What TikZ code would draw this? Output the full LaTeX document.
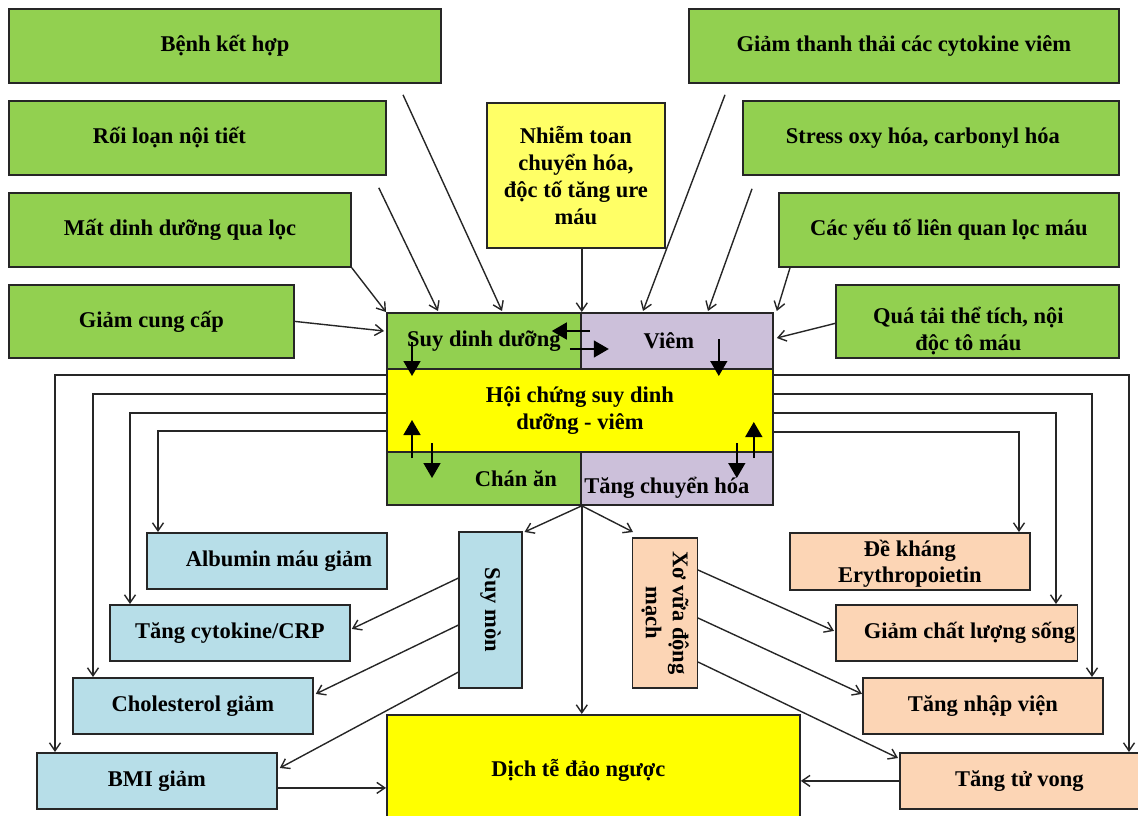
\documentclass[tikz,border=0pt]{standalone}
\usepackage{fontspec}
\setmainfont{Liberation Serif}
\usetikzlibrary{arrows.meta,calc}
\definecolor{cgreen}{HTML}{92D050}
\definecolor{cpurple}{HTML}{CCC0DA}
\definecolor{cyellow}{HTML}{FFFF00}
\definecolor{clyellow}{HTML}{FFFF66}
\definecolor{cblue}{HTML}{B7DEE8}
\definecolor{cpeach}{HTML}{FCD5B5}
\newcommand{\nudge}[1]{\hspace*{#1}}

\begin{document}
\begin{tikzpicture}[
      x=1pt, y=-1pt,
      nodes={
        font=\fontsize{22.5}{27}\selectfont\bfseries,
        align=center, inner sep=2pt
      },
      box/.style={draw=black!85, line width=1.8pt, anchor=north west},
      cause/.style={box, fill=cgreen},
      core/.style={box, fill=#1},
      effl/.style={box, fill=cblue, minimum width=240, minimum height=56},
      effr/.style={box, fill=cpeach, minimum width=240, minimum height=56},
      conn/.style={draw=black!85, line width=1.4pt, ->},
      bigarrow/.style={line width=1.6pt, -{Triangle[length=15pt,width=17pt]}},
      >={Straight Barb[length=8pt,width=11pt]}
      ]

  \useasboundingbox (0,0) rectangle (1138,816);

  % causes, left
  \node[cause, minimum width=432, minimum height=74] (benh) at (8,8) {Bệnh kết hợp};
  \node[cause, minimum width=377, minimum height=74] (roi) at (8,100) {\nudge{-56pt}Rối loạn nội tiết};
  \node[cause, minimum width=342, minimum height=74] (mat) at (8,192) {Mất dinh dưỡng qua lọc};
  \node[cause, minimum width=285, minimum height=73] (giam) at (8,284) {Giảm cung cấp};
  \node[box, fill=clyellow, minimum width=178, minimum height=145] (nhiem) at (486,102)
    {Nhiễm toan\\chuyển hóa,\\độc tố tăng ure\\máu};

  % causes, right
  \node[cause, minimum width=430, minimum height=74] (thanh) at (688,8) {Giảm thanh thải các cytokine viêm};
  \node[cause, minimum width=376, minimum height=74] (stress) at (742,100) {\nudge{-16pt}Stress oxy hóa, carbonyl hóa};
  \node[cause, minimum width=340, minimum height=74] (cac) at (778,192) {Các yếu tố liên quan lọc máu};
  \node[cause, minimum width=283, minimum height=73] (qua) at (835,284)
    {\rule{0pt}{36pt}\nudge{-18pt}Quá tải thể tích, nội\\\nudge{-18pt}độc tô máu};

  % core block
  \node[core=cgreen, minimum width=194, minimum height=56] (sdd) at (386,312) {Suy dinh dưỡng};
  \node[core=cpurple, minimum width=192, minimum height=56] (viem) at (580,312) {\nudge{-16pt}Viêm};
  \node[core=cyellow, minimum width=386, minimum height=83] (hoi) at (386,368) {Hội chứng suy dinh\\dưỡng - viêm};
  \node[core=cgreen, minimum width=194, minimum height=53] (chan) at (386,451) {\nudge{64pt}Chán ăn};
  \node[core=cpurple, minimum width=192, minimum height=53] (tang) at (580,451) {\rule{0pt}{36pt}\nudge{-20pt}Tăng chuyển hóa};

  % effects, left
  \node[effl] (alb) at (146,532) {\nudge{24pt}Albumin máu giảm};
  \node[effl] (cyto) at (109,604) {Tăng cytokine/CRP};
  \node[effl] (chol) at (72,677) {Cholesterol giảm};
  \node[effl] (bmi) at (36,752) {BMI giảm};
  \node[box, fill=cblue, anchor=center, rotate=-90, minimum width=156, minimum height=63] (suymon) at (490.5,610) {Suy mòn};

  % effects, right
  \node[box, fill=cpeach, anchor=center, rotate=-90, minimum width=150, minimum height=65] (xova) at (665,613) {Xơ vữa động\\mạch};
  \node[effr, font=\fontsize{22.5}{26}\selectfont\bfseries] (dek) at (789,532) {\rule{0pt}{22pt}Đề kháng\\Erythropoietin};
  \node[effr, minimum width=238] (gcl) at (835,604) {\nudge{26pt}Giảm chất lượng sống};
  \node[effr] (nhap) at (862,677) {Tăng nhập viện};
  \node[effr, minimum width=239] (tu) at (899,752) {Tăng tử vong};
  \node[core=cyellow, minimum width=413, minimum height=110] (dich) at (386,714) {\nudge{-30pt}Dịch tễ đảo ngược};

  % into the core
  \draw[conn] ($(benh.south west)+(395,11)$) -- ($(sdd.north west)+(116,-1)$);
  \draw[conn] ($(roi.south east)+(-8,12)$) -- ($(sdd.north west)+(52,-1)$);
  \draw[conn] (mat.south east) -- (sdd.north west);
  \draw[conn] (giam.east) -- ($(sdd.north west)+(-2,19)$);
  \draw[conn] (nhiem.south -| sdd.north east) -- (sdd.north east);
  \draw[conn] ($(thanh.south west)+(37,11)$) -- ($(viem.north west)+(63,-1)$);
  \draw[conn] ($(stress.south west)+(10,13)$) -- ($(viem.north west)+(128,-1)$);
  \draw[conn] ($(cac.south west)+(12,0)$) -- ($(viem.north east)+(3,-1)$);
  \draw[conn] ($(qua.west)+(0,2)$) -- ($(viem.north east)+(3,26)$);

  % inside the core
  \draw[bigarrow] ($(sdd.north east)+(8,19)$) -- ($(sdd.north east)+(-30,19)$);
  \draw[bigarrow] ($(sdd.north east)+(-12,37)$) -- ($(sdd.north east)+(27,37)$);
  \draw[bigarrow] ($(sdd.north west)+(26,30)$) -- ($(sdd.north west)+(26,64)$);
  \draw[bigarrow] ($(viem.north east)+(-55,27)$) -- ($(viem.north east)+(-55,64)$);
  \draw[bigarrow] ($(chan.north west)+(26,7)$) -- ($(chan.north west)+(26,-31)$);
  \draw[bigarrow] ($(chan.north west)+(46,-8)$) -- ($(chan.north west)+(46,27)$);
  \draw[bigarrow] ($(tang.north east)+(-37,-8)$) -- ($(tang.north east)+(-37,27)$);
  \draw[bigarrow] ($(tang.north east)+(-20,7)$) -- ($(tang.north east)+(-20,-29)$);

  % out of the core, sides
  \draw[conn] ($(hoi.north west)+(0,7)$) -| ($(bmi.north west)+(19,0)$);
  \draw[conn] ($(hoi.north west)+(0,26)$) -| ($(chol.north west)+(21,0)$);
  \draw[conn] ($(hoi.north west)+(0,45)$) -| ($(cyto.north west)+(21,0)$);
  \draw[conn] ($(hoi.north west)+(0,63)$) -| ($(alb.north west)+(12,0)$);
  \draw[conn] ($(hoi.north east)+(0,7)$) -| ($(tu.north west)+(230,0)$);
  \draw[conn] ($(hoi.north east)+(0,26)$) -| ($(nhap.north west)+(230,0)$);
  \draw[conn] ($(hoi.north east)+(0,45)$) -| ($(gcl.north west)+(221,0)$);
  \draw[conn] ($(hoi.north east)+(0,64)$) -| ($(dek.north west)+(230,0)$);

  % out of the core, bottom
  \draw[conn] (chan.south east) -- ($(suymon.center)+(34,-78)$);
  \draw[conn] (chan.south east) -- ($(xova.center)+(-32,-81)$);
  \draw[conn] (chan.south east) -- (chan.south east |- dich.north);

  \draw[conn] ($(suymon.center)+(-32,-32)$) -- ($(cyto.east)+(1,-4)$);
  \draw[conn] ($(suymon.center)+(-32,15)$) -- ($(chol.east)+(2,-12)$);
  \draw[conn] ($(suymon.center)+(-32,62)$) -- ($(bmi.north east)+(2,16)$);
  \draw[conn] ($(xova.center)+(33,-43)$) -- ($(gcl.west)+(-1,-2)$);
  \draw[conn] ($(xova.center)+(33,5)$) -- ($(nhap.west)+(0,-12)$);
  \draw[conn] ($(xova.center)+(33,49)$) -- ($(tu.north west)+(-1,6)$);

  \coordinate (bmiout) at ($(bmi.east)+(0,7)$);
  \draw[conn] (bmiout) -- (bmiout -| dich.west);
  \draw[conn] (tu.west) -- (tu.west -| dich.east);

\end{tikzpicture}
\end{document}
